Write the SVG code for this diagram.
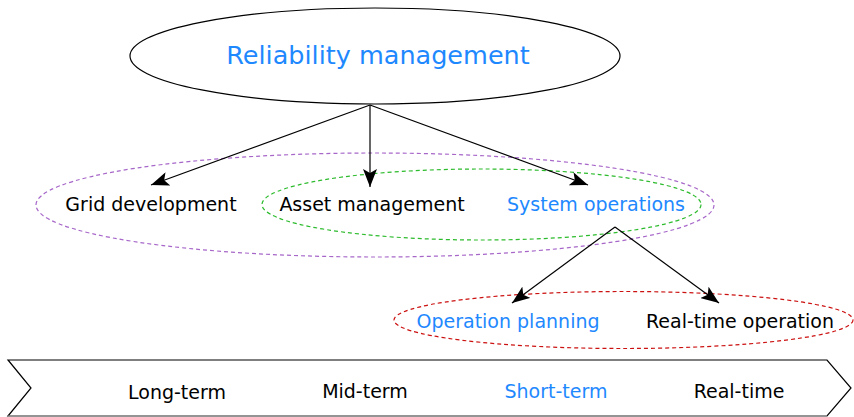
<svg xmlns="http://www.w3.org/2000/svg" width="854" height="417" viewBox="0 0 854 417">
<defs>
<marker id="ah" markerWidth="18" markerHeight="14" refX="18" refY="7" orient="auto" markerUnits="userSpaceOnUse">
<path d="M0,0 L18,7 L0,14 L4,7 z" fill="#000"/>
</marker>
<style>
.t{font-family:"DejaVu Sans",sans-serif;font-size:19px;text-anchor:middle;fill:#000}
.b{fill:#1e88ff}
.c{stroke:#000;stroke-width:1.2;fill:none;marker-end:url(#ah)}
.d{fill:none;stroke-width:1.2;stroke-dasharray:4,3}
</style>
</defs>
<rect width="854" height="417" fill="#fff"/>
<g id="groups">
<ellipse cx="375" cy="205" rx="339" ry="52" class="d" stroke="#a767c9"/>
<ellipse cx="481.5" cy="204.5" rx="219.5" ry="35.5" class="d" stroke="#2cbb2c"/>
<ellipse cx="623.5" cy="320" rx="229.5" ry="28.5" class="d" stroke="#cc1111"/>
</g>
<g id="connectors">
<line x1="370" y1="105" x2="151" y2="185" class="c"/>
<line x1="370" y1="105" x2="370" y2="187" class="c"/>
<line x1="370" y1="105" x2="588" y2="185" class="c"/>
<line x1="615" y1="227" x2="512" y2="303" class="c"/>
<line x1="615" y1="227" x2="719" y2="303" class="c"/>
</g>
<g id="reliability">
<ellipse cx="375" cy="56" rx="245" ry="48" fill="none" stroke="#000" stroke-width="1.2"/>
<text x="378" y="64" class="t b" style="font-size:25.5px">Reliability management</text>
</g>
<g id="grid"><text x="151" y="211" class="t">Grid development</text></g>
<g id="asset"><text x="372" y="211" class="t">Asset management</text></g>
<g id="system"><text x="596" y="211" class="t b">System operations</text></g>
<g id="opplan"><text x="508" y="328" class="t b">Operation planning</text></g>
<g id="realop"><text x="740" y="328" class="t">Real-time operation</text></g>
<g id="timeline">
<path d="M8,360 L827,360 L851,388 L827,416 L8,416 L31,388 z" fill="#fff" stroke="#000" stroke-width="1.2"/>
<line x1="8" y1="416" x2="827" y2="416" stroke="#aaa" stroke-width="1.2"/>
<text x="177" y="399" class="t">Long-term</text>
<text x="365" y="398" class="t">Mid-term</text>
<text x="556" y="398" class="t b">Short-term</text>
<text x="739" y="398" class="t">Real-time</text>
</g>
</svg>
